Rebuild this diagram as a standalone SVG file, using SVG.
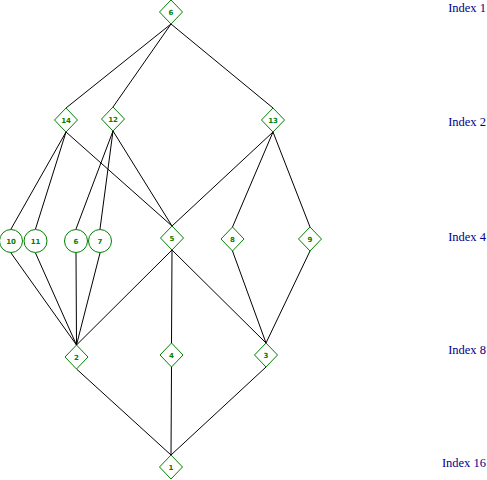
<svg xmlns="http://www.w3.org/2000/svg" width="487" height="480" viewBox="0 0 487 480">
<style>
.n{fill:#fff;stroke:#008000;stroke-width:1}
.t{font-family:"DejaVu Sans","Liberation Sans",sans-serif;font-size:7px;font-weight:bold;fill:#008000;text-anchor:middle;dominant-baseline:central}
.e{stroke:#000;stroke-width:1;fill:none}
.ix{font-family:"Liberation Serif",serif;font-size:12.5px;fill:#00008b;text-anchor:end}
</style>
<defs>
<polygon id="dm" points="0,-12 11.5,0 0,12 -11.5,0"/>
</defs>
<rect width="487" height="480" fill="#fff"/>
<g id="connectors" class="e">
<line x1="171" y1="24" x2="66" y2="108"/>
<line x1="171" y1="24" x2="113" y2="107"/>
<line x1="171" y1="24" x2="273" y2="108"/>
<line x1="66" y1="132" x2="11" y2="229"/>
<line x1="66" y1="132" x2="35.5" y2="229"/>
<line x1="66" y1="132" x2="172" y2="226"/>
<line x1="113" y1="131" x2="76" y2="229"/>
<line x1="113" y1="131" x2="100" y2="229"/>
<line x1="113" y1="131" x2="172" y2="226"/>
<line x1="273" y1="132" x2="172" y2="226"/>
<line x1="273" y1="132" x2="232.5" y2="227"/>
<line x1="273" y1="132" x2="310" y2="227"/>
<line x1="11" y1="253" x2="76.5" y2="345"/>
<line x1="35.5" y1="253" x2="76.5" y2="345"/>
<line x1="76" y1="253" x2="76.5" y2="345"/>
<line x1="100" y1="253" x2="76.5" y2="345"/>
<line x1="172" y1="250" x2="76.5" y2="345"/>
<line x1="172" y1="250" x2="171.5" y2="343"/>
<line x1="172" y1="250" x2="266" y2="343"/>
<line x1="232.5" y1="251" x2="266" y2="343"/>
<line x1="310" y1="251" x2="266" y2="343"/>
<line x1="76.5" y1="369" x2="171" y2="455"/>
<line x1="171.5" y1="367" x2="171" y2="455"/>
<line x1="266" y1="367" x2="171" y2="455"/>
</g>
<g id="node6"><use href="#dm" x="171" y="12" class="n"/><text class="t" x="171" y="12.5">6</text></g>
<g id="node14"><use href="#dm" x="66" y="120" class="n"/><text class="t" x="66" y="120.5">14</text></g>
<g id="node12"><use href="#dm" x="113" y="119" class="n"/><text class="t" x="113" y="119.5">12</text></g>
<g id="node13"><use href="#dm" x="273" y="120" class="n"/><text class="t" x="273" y="120.5">13</text></g>
<g id="node10"><circle cx="11" cy="241" r="11.5" class="n"/><text class="t" x="11" y="241.5">10</text></g>
<g id="node11"><circle cx="35.5" cy="241" r="11.5" class="n"/><text class="t" x="35.5" y="241.5">11</text></g>
<g id="node6b"><circle cx="76" cy="241" r="11.5" class="n"/><text class="t" x="76" y="241.5">6</text></g>
<g id="node7"><circle cx="100" cy="241" r="11.5" class="n"/><text class="t" x="100" y="241.5">7</text></g>
<g id="node5"><use href="#dm" x="172" y="238" class="n"/><text class="t" x="172" y="238.5">5</text></g>
<g id="node8"><use href="#dm" x="232.5" y="239" class="n"/><text class="t" x="232.5" y="239.5">8</text></g>
<g id="node9"><use href="#dm" x="310" y="239" class="n"/><text class="t" x="310" y="239.5">9</text></g>
<g id="node2"><use href="#dm" x="76.5" y="357" class="n"/><text class="t" x="76.5" y="357.5">2</text></g>
<g id="node4"><use href="#dm" x="171.5" y="355" class="n"/><text class="t" x="171.5" y="355.5">4</text></g>
<g id="node3"><use href="#dm" x="266" y="355" class="n"/><text class="t" x="266" y="355.5">3</text></g>
<g id="node1"><use href="#dm" x="171" y="467" class="n"/><text class="t" x="171" y="467.5">1</text></g>
<g id="index-labels">
<text class="ix" x="486" y="12">Index 1</text>
<text class="ix" x="486" y="126">Index 2</text>
<text class="ix" x="486" y="241">Index 4</text>
<text class="ix" x="486" y="354">Index 8</text>
<text class="ix" x="486" y="467">Index 16</text>
</g>
</svg>
